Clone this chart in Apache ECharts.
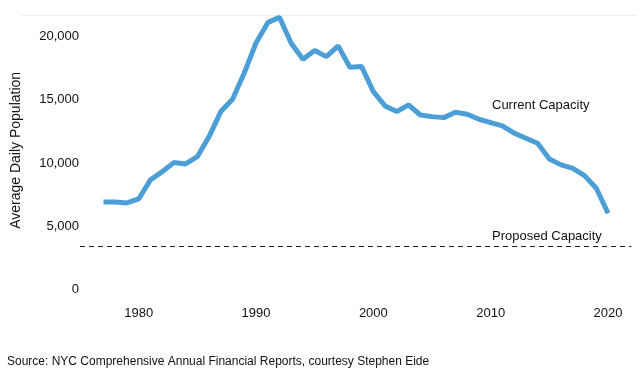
<!DOCTYPE html>
<html>
<head>
<meta charset="utf-8">
<script src="https://cdn.jsdelivr.net/npm/echarts@6/dist/echarts.min.js"></script>
<style>
html,body{margin:0;padding:0;background:#fff;}
#chart{width:640px;height:384px;}
</style>
</head>
<body>
<div id="chart"></div>
<script>
const years = [1977,1978,1979,1980,1981,1982,1983,1984,1985,1986,1987,1988,1989,1990,1991,1992,1993,1994,1995,1996,1997,1998,1999,2000,2001,2002,2003,2004,2005,2006,2007,2008,2009,2010,2011,2012,2013,2014,2015,2016,2017,2018,2019,2020];
const population = [6910,6910,6840,7150,8660,9310,10030,9920,10500,12090,14070,15050,17130,19500,21110,21540,19480,18220,18900,18420,19270,17580,17630,15650,14520,14070,14600,13800,13670,13590,14020,13860,13460,13200,12930,12360,11960,11560,10320,9850,9580,9000,8000,6020];
const proposedCapacity = 3400;
const xTicks = [1980,1990,2000,2010,2020];
const yTicks = [0,5000,10000,15000,20000];
const yAxisTitle = 'Average Daily Population';
const currentLabel = 'Current Capacity';
const proposedLabel = 'Proposed Capacity';
const sourceText = 'Source: NYC Comprehensive Annual Financial Reports, courtesy Stephen Eide';

const FONT = '"Liberation Sans", Arial, sans-serif';
const chart = echarts.init(document.getElementById('chart'), null, {renderer:'canvas'});
chart.setOption({
  animation: false,
  backgroundColor: '#ffffff',
  textStyle: {fontFamily: FONT},
  grid: {left: 80, right: 8.5, top: 11.4, bottom: 94.7},
  xAxis: {
    type: 'value', min: 1975, max: 2022, interval: 5,
    axisLine: {show: false}, axisTick: {show: false}, splitLine: {show: false},
    axisLabel: {
      margin: 18, color: '#111', fontSize: 13, fontFamily: FONT,
      formatter: v => xTicks.includes(v) ? String(v) : ''
    }
  },
  yAxis: {
    type: 'value', min: 0, max: 22000, interval: 5000,
    name: yAxisTitle, nameLocation: 'middle', nameRotate: 90, nameGap: 57,
    nameTextStyle: {color: '#111', fontSize: 14, fontFamily: FONT},
    axisLine: {show: false}, axisTick: {show: false}, splitLine: {show: false},
    axisLabel: {
      margin: 1, color: '#111', fontSize: 13, fontFamily: FONT,
      formatter: v => yTicks.includes(v) ? v.toLocaleString('en-US') : ''
    }
  },
  series: [{
    type: 'line',
    data: years.map((y, i) => [y, population[i]]),
    showSymbol: false,
    lineStyle: {color: '#4b9fd6', width: 5},
    itemStyle: {color: '#4b9fd6'},
    markLine: {
      silent: true, symbol: 'none',
      label: {show: false},
      lineStyle: {color: '#222', type: [5, 4], width: 1.2},
      data: [{yAxis: proposedCapacity}]
    }
  }],
  graphic: [
    {type: 'line', shape: {x1: 22, y1: 15.5, x2: 636, y2: 15.5}, style: {stroke: '#eeeeee', lineWidth: 1}},
    {type: 'text', left: 492, top: 99, style: {text: currentLabel, font: '13px ' + FONT, fill: '#111'}},
    {type: 'text', left: 492, top: 230, style: {text: proposedLabel, font: '13px ' + FONT, fill: '#111'}},
    {type: 'text', left: 7, top: 356, style: {text: sourceText, font: '12px ' + FONT, fill: '#111'}}
  ]
});
</script>
</body>
</html>
